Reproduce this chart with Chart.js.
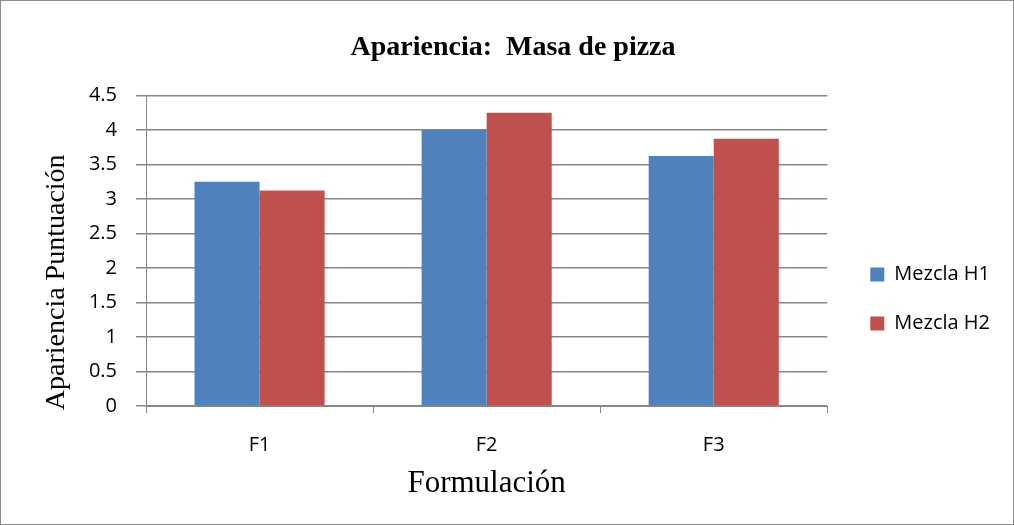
<!DOCTYPE html>
<html>
<head>
<meta charset="utf-8">
<script src="https://cdn.jsdelivr.net/npm/chart.js@4"></script>
<style>
  body { margin: 0; background: #fff; }
  #wrap { width: 1014px; height: 525px; box-sizing: border-box; border: 1px solid #8c8c8c; }
</style>
</head>
<body>
<div id="wrap"><canvas id="chart" width="1012" height="523"></canvas></div>
<script>
var categories = ['F1', 'F2', 'F3'];
var mezclaH1 = [3.25, 4.0, 3.625];
var mezclaH2 = [3.125, 4.25, 3.875];
var yTicks = [0, 0.5, 1, 1.5, 2, 2.5, 3, 3.5, 4, 4.5];

var gridColor = '#868686';
var tickFont = { family: 'Open Sans', size: 20 };
var serif = 'Liberation Serif';

// push the legend items a bit further from the plot, like the original
const legendShift = {
  id: 'legendShift',
  afterLayout(chart) {
    chart.legend.left += 14;
    chart.legend.right += 14;
  }
};

const chart = new Chart('chart', {
  type: 'bar',
  data: {
    labels: categories,
    datasets: [
      {
        label: 'Mezcla H1',
        data: mezclaH1,
        backgroundColor: '#4f81bd',
        categoryPercentage: 0.573,
        barPercentage: 1.0
      },
      {
        label: 'Mezcla H2',
        data: mezclaH2,
        backgroundColor: '#c0504d',
        categoryPercentage: 0.573,
        barPercentage: 1.0
      }
    ]
  },
  plugins: [legendShift],
  options: {
    responsive: false,
    animation: false,
    layout: { padding: { top: 20, left: 39, right: 27, bottom: 22 } },
    plugins: {
      title: {
        display: true,
        text: 'Apariencia:  Masa de pizza',
        color: '#000',
        font: { family: serif, size: 28, weight: 'bold' },
        padding: { top: 10, bottom: 31 }
      },
      legend: {
        position: 'right',
        align: 'center',
        title: {
          display: true,
          text: ' ',
          font: { size: 10 },
          padding: { top: 0, bottom: 63 }
        },
        labels: {
          color: '#000',
          font: tickFont,
          boxWidth: 14,
          boxHeight: 14,
          padding: 29
        }
      },
      tooltip: { enabled: false }
    },
    scales: {
      x: {
        afterFit: function (axis) { axis.height = 96; },
        grid: {
          offset: true,
          drawOnChartArea: false,
          drawTicks: true,
          tickLength: 7,
          color: gridColor
        },
        border: { color: gridColor, width: 1 },
        ticks: { color: '#000', font: tickFont, padding: 20 },
        title: {
          display: true,
          text: 'Formulación',
          color: '#000',
          font: { family: serif, size: 31 },
          padding: { top: 6, bottom: 0 }
        }
      },
      y: {
        min: 0,
        max: 4.5,
        afterFit: function (axis) { axis.width = 106; },
        afterBuildTicks: function (axis) {
          axis.ticks = yTicks.map(v => ({ value: v }));
        },
        grid: {
          color: gridColor,
          lineWidth: 1.5,
          tickLength: 10
        },
        border: { color: gridColor, width: 1 },
        ticks: {
          color: '#000',
          font: tickFont,
          padding: 19,
          callback: function (value) { return String(value); }
        },
        title: {
          display: true,
          text: 'Apariencia Puntuación' + '\u00A0'.repeat(9),
          color: '#000',
          font: { family: serif, size: 28 },
          padding: { top: 0, bottom: 15 }
        }
      }
    }
  }
});
</script>
</body>
</html>
